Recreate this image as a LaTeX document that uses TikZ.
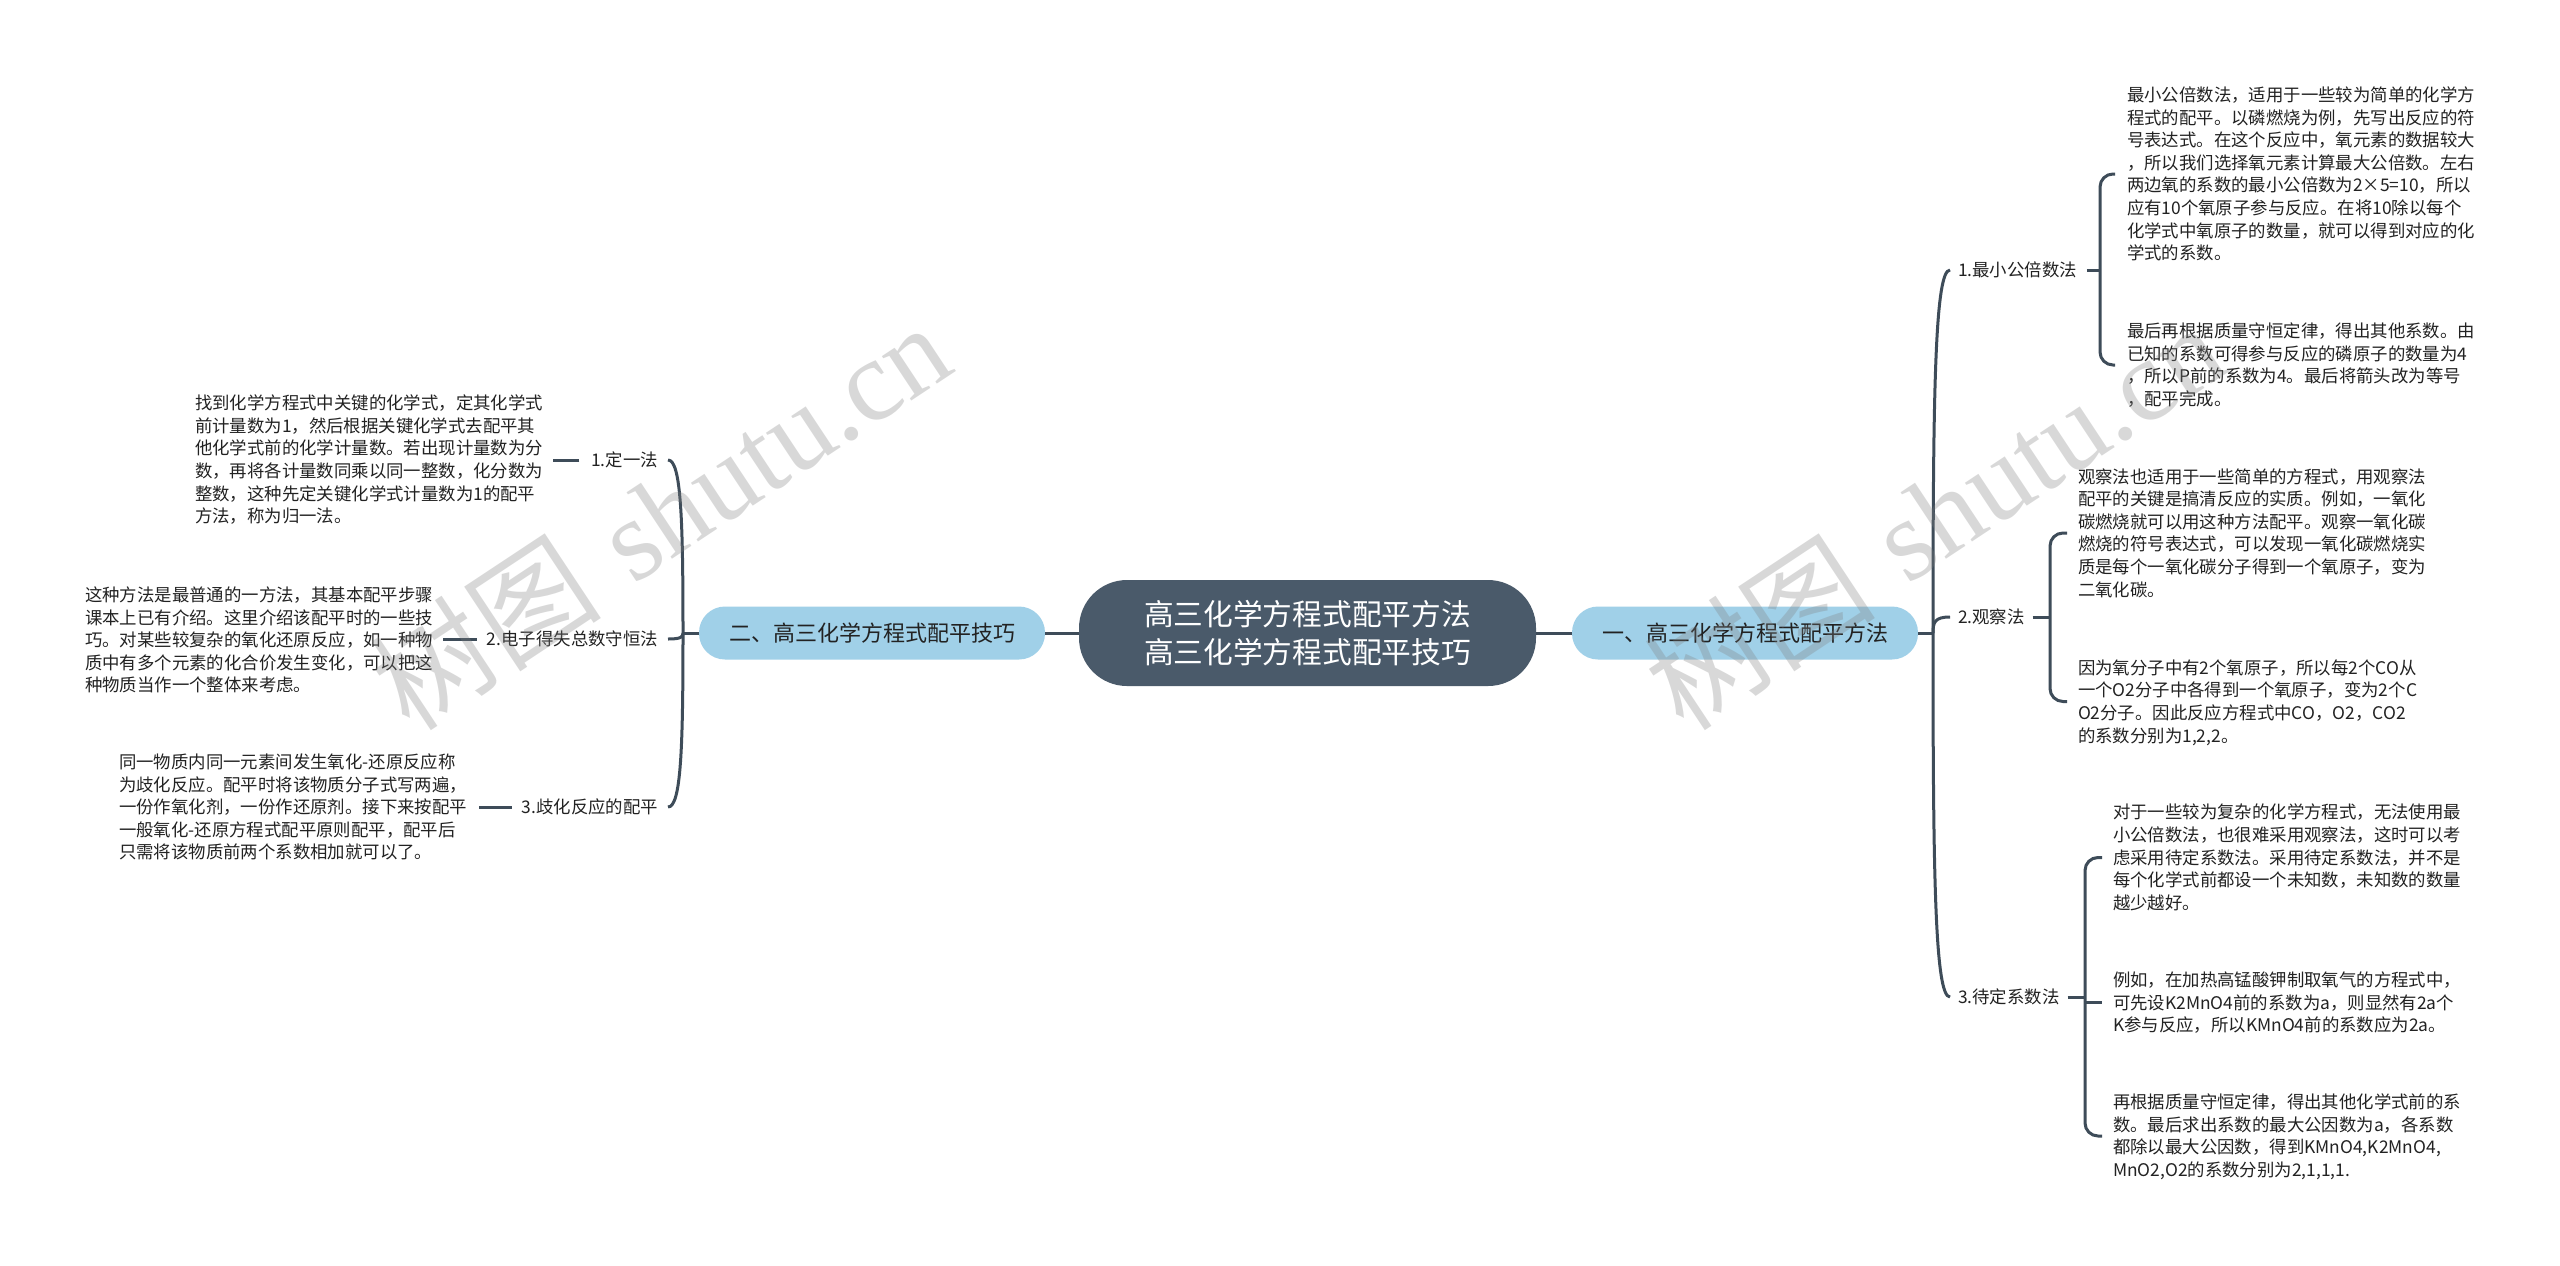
\documentclass[tikz,border=0pt]{standalone}
\usepackage{fontspec}
\newfontfamily\cjk{Noto Sans CJK SC}
\newfontfamily\wmserif{Liberation Serif}
\usetikzlibrary{calc}
\definecolor{lineC}{HTML}{3E4C59}
\definecolor{rootC}{HTML}{4A5A6A}
\definecolor{mainC}{HTML}{A0D0E8}
\definecolor{txtC}{HTML}{222222}
\newcommand{\mys}{\rule[-2.35pt]{0pt}{11.3pt}}
\newcommand{\myb}{\rule[-3.86pt]{0pt}{19pt}}
\newcommand{\mym}{\rule[-2.32pt]{0pt}{13pt}}
\begin{document}
\begin{tikzpicture}[x=0.5pt,y=-0.5pt,
  every node/.style={inner sep=0pt, outer sep=0pt},
  txt/.style={anchor=west, align=left, font=\cjk\fontsize{8.7}{11.3}\selectfont, text=txtC},
  lab/.style={font=\cjk\fontsize{8.7}{11.3}\selectfont, text=txtC},
  ln/.style={draw=lineC, line width=1.5pt},
  br/.style={draw=lineC, line width=1.5pt, rounded corners=6.5pt},
  root/.style={fill=rootC, text=white, rounded corners=24pt, minimum width=228.5pt, minimum height=53pt, align=center, font=\cjk\fontsize{14.85}{19}\selectfont},
  mainnode/.style={fill=mainC, text=txtC, rounded corners=13pt, minimum width=173pt, minimum height=26.5pt, font=\cjk\fontsize{11}{13}\selectfont},
  wm/.style={text=black!50, opacity=0.3, rotate=33.5, font=\fontsize{58}{66}\selectfont}
]
\useasboundingbox (0,0) rectangle (2560,1265);
\fill[white] (0,0) rectangle (2560,1265);

% central and main nodes
\node[root] (root) at (1307.5,633) {\myb 高三化学方程式配平方法\\ 高三化学方程式配平技巧\myb};
\node[mainnode] (lb) at (872,633) {\mym 二、高三化学方程式配平技巧};
\node[mainnode] (rb) at (1745,633) {\mym 一、高三化学方程式配平方法};
\draw[ln] (root.west) -- (lb.east);
\draw[ln] (root.east) -- (rb.west);

% right labels
\node[lab, anchor=west] (rl1) at (1958,270) {\mys 1.最小公倍数法};
\node[lab, anchor=west] (rl2) at (1958,617) {\mys 2.观察法};
\node[lab, anchor=west] (rl3) at (1958,997) {\mys 3.待定系数法};

% left labels
\node[lab, anchor=east] (ll1) at (658,460) {\mys 1.定一法};
\node[lab, anchor=east] (ll2) at (658,639) {\mys 2.电子得失总数守恒法};
\node[lab, anchor=east] (ll3) at (658,807) {\mys 3.歧化反应的配平};

% right text blocks
\node[txt] (r1a) at (2127,174) {\mys 最小公倍数法，适用于一些较为简单的化学方\\
程式的配平。以磷燃烧为例，先写出反应的符\\
号表达式。在这个反应中，氧元素的数据较大\\
，所以我们选择氧元素计算最大公倍数。左右\\
两边氧的系数的最小公倍数为2×5=10，所以\\
应有10个氧原子参与反应。在将10除以每个\\
化学式中氧原子的数量，就可以得到对应的化\\
\mys 学式的系数。};
\node[txt] (r1b) at (2127,365) {\mys 最后再根据质量守恒定律，得出其他系数。由\\
已知的系数可得参与反应的磷原子的数量为4\\
，所以P前的系数为4。最后将箭头改为等号\\
\mys ，配平完成。};

\node[txt] (r2a) at (2078,533) {\mys 观察法也适用于一些简单的方程式，用观察法\\
配平的关键是搞清反应的实质。例如，一氧化\\
碳燃烧就可以用这种方法配平。观察一氧化碳\\
燃烧的符号表达式，可以发现一氧化碳燃烧实\\
质是每个一氧化碳分子得到一个氧原子，变为\\
\mys 二氧化碳。};
\node[txt] (r2b) at (2078,701.5) {\mys 因为氧分子中有2个氧原子，所以每2个CO从\\
一个O2分子中各得到一个氧原子，变为2个C\\
O2分子。因此反应方程式中CO，O2，CO2\\
\mys 的系数分别为1,2,2。};

\node[txt] (r3a) at (2113,857.5) {\mys 对于一些较为复杂的化学方程式，无法使用最\\
小公倍数法，也很难采用观察法，这时可以考\\
虑采用待定系数法。采用待定系数法，并不是\\
每个化学式前都设一个未知数，未知数的数量\\
\mys 越少越好。};
\node[txt] (r3b) at (2113,1002.5) {\mys 例如，在加热高锰酸钾制取氧气的方程式中，\\
可先设K2MnO4前的系数为a，则显然有2a个\\
\mys K参与反应，所以KMnO4前的系数应为2a。};
\node[txt] (r3c) at (2113,1136) {\mys 再根据质量守恒定律，得出其他化学式前的系\\
数。最后求出系数的最大公因数为a，各系数\\
都除以最大公因数，得到KMnO4,K2MnO4,\\
\mys MnO2,O2的系数分别为2,1,1,1.};

% left text blocks
\node[txt] (lt1) at (195,459.5) {\mys 找到化学方程式中关键的化学式，定其化学式\\
前计量数为1，然后根据关键化学式去配平其\\
他化学式前的化学计量数。若出现计量数为分\\
数，再将各计量数同乘以同一整数，化分数为\\
整数，这种先定关键化学式计量数为1的配平\\
\mys 方法，称为归一法。};
\node[txt] (lt2) at (85,640) {\mys 这种方法是最普通的一方法，其基本配平步骤\\
课本上已有介绍。这里介绍该配平时的一些技\\
巧。对某些较复杂的氧化还原反应，如一种物\\
质中有多个元素的化合价发生变化，可以把这\\
\mys 种物质当作一个整体来考虑。};
\node[txt] (lt3) at (119,807) {\mys 同一物质内同一元素间发生氧化-还原反应称\\
为歧化反应。配平时将该物质分子式写两遍，\\
一份作氧化剂，一份作还原剂。接下来按配平\\
一般氧化-还原方程式配平原则配平，配平后\\
\mys 只需将该物质前两个系数相加就可以了。};

% right trunk
\coordinate (rt) at (1933,633);
\draw[ln] (rb.east) -- (rt);
\draw[ln] (rt) .. controls (1933,391) and (1935,270) .. ($(rl1.west)+(-8,0)$);
\draw[ln] (rt) .. controls (1933,622) and (1935,617) .. ($(rl2.west)+(-8,0)$);
\draw[ln] (rt) .. controls (1933,876) and (1935,997) .. ($(rl3.west)+(-8,0)$);

% left trunk
\coordinate (lt) at (683,633);
\draw[ln] (lb.west) -- (lt);
\draw[ln] (lt) .. controls (683,518) and (681,460) .. ($(ll1.east)+(10,0)$);
\draw[ln] (lt) .. controls (683,637) and (681,639) .. ($(ll2.east)+(10,0)$);
\draw[ln] (lt) .. controls (683,749) and (681,807) .. ($(ll3.east)+(10,0)$);

% right brackets
\coordinate (bx1) at (2100,0);
\draw[ln] ($(rl1.east)+(10,0)$) -- (bx1 |- rl1.east);
\draw[br] ($(r1a.west)+(-12,0)$) -- (bx1 |- r1a.west) -- (bx1 |- r1b.west) -- ($(r1b.west)+(-12,0)$);

\coordinate (bx2) at (2050,0);
\draw[ln] ($(rl2.east)+(8,0)$) -- (bx2 |- rl2.east);
\draw[br] ($(r2a.west)+(-11,0)$) -- (bx2 |- r2a.west) -- (bx2 |- r2b.west) -- ($(r2b.west)+(-11,0)$);

\coordinate (bx3) at (2085,0);
\draw[ln] ($(rl3.east)+(8,0)$) -- (bx3 |- rl3.east);
\draw[br] ($(r3a.west)+(-11,0)$) -- (bx3 |- r3a.west) -- (bx3 |- r3c.west) -- ($(r3c.west)+(-11,0)$);
\draw[ln] (bx3 |- r3b.west) -- ($(r3b.west)+(-11,0)$);

% left stubs
\draw[ln] ($(ll1.west)+(-12,0)$) -- ($(lt1.east |- ll1.west)+(10,0)$);
\draw[ln] ($(ll2.west)+(-10,0)$) -- ($(lt2.east |- ll2.west)+(10,0)$);
\draw[ln] ($(ll3.west)+(-10,0)$) -- ($(lt3.east |- ll3.west)+(12,0)$);

% watermarks
\node[wm] (wm1) at (660,515) {{\cjk 树图} {\wmserif shutu.cn}};
\node[wm] (wm2) at (1934,515) {{\cjk 树图} {\wmserif shutu.cn}};
\end{tikzpicture}
\end{document}
